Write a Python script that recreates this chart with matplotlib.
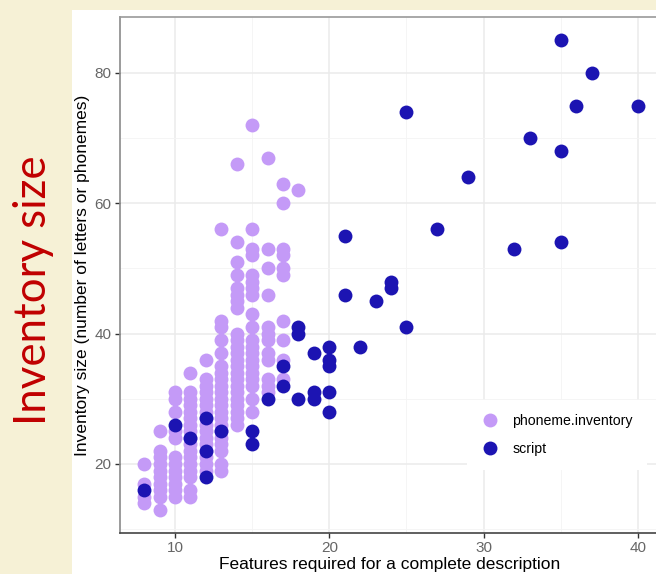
import matplotlib.pyplot as plt
from matplotlib.patches import Rectangle
from matplotlib.lines import Line2D

# phoneme inventories: one list of sizes per feature count
phoneme_x = [8, 9, 10, 11, 12, 13, 14, 15, 16, 17, 18]
phoneme_y = [
    [20, 17, 15, 14],
    [25, 22, 21, 20, 19, 18, 17, 16, 15, 13],
    [31, 30, 28, 25, 24, 21, 20, 19, 18, 17, 16, 15],
    [34, 31, 30, 29, 28, 27, 26, 25, 24, 23, 22, 21, 20, 19, 18, 16, 15],
    [36, 33, 32, 31, 30, 29, 28, 27, 26, 25, 24, 23, 22, 21, 20, 19],
    [56, 42, 41, 39, 37, 35, 34, 33, 32, 31, 30, 29, 28, 27, 26, 25, 24, 23, 22, 20, 19],
    [66, 54, 51, 49, 47, 46, 45, 44, 40, 39, 38, 37, 36, 35, 34, 33, 32, 31, 30, 29, 28, 27, 26],
    [72, 56, 53, 52, 49, 48, 47, 46, 43, 41, 39, 38, 37, 36, 35, 34, 33, 32, 30, 28],
    [67, 53, 50, 46, 41, 40, 39, 37, 36, 33, 32, 31],
    [63, 60, 53, 52, 50, 49, 42, 39, 36, 33],
    [62],
]

# writing systems (scripts)
script_x = [8, 10, 11, 12, 12, 12, 13, 15, 15, 16, 17, 17, 18, 18, 18, 19, 19, 19,
            20, 20, 20, 20, 20, 21, 21, 22, 23, 24, 24, 25, 25, 27, 29, 32, 33,
            35, 35, 35, 36, 37, 40]
script_y = [16, 26, 24, 27, 22, 18, 25, 25, 23, 30, 35, 32, 41, 40, 30, 37, 31, 30,
            38, 36, 35, 31, 28, 55, 46, 38, 45, 48, 47, 74, 41, 56, 64, 53, 70,
            85, 68, 54, 75, 80, 75]

x_major = [10, 20, 30, 40]
x_minor = [15, 25, 35]
y_major = [20, 40, 60, 80]
y_minor = [10, 30, 50, 70]

PINK = '#c49af7'
BLUE = '#1c14b2'

plt.rcParams['font.family'] = ['Liberation Sans', 'DejaVu Sans']

fig = plt.figure(figsize=(6.56, 5.74), dpi=100)
fig.patch.set_facecolor('#f6f1d6')
# white slide panel, kept behind the axes
fig.patches.append(Rectangle((72 / 656, 0), 1, 1 - 10 / 574, transform=fig.transFigure,
                             facecolor='white', edgecolor='none', zorder=-10))

fig.text(34 / 656, 284 / 574, 'Inventory size', rotation=90, color='#c00000',
         fontsize=31.5, family=['Lato', 'DejaVu Sans'],
         ha='center', va='center')

ax = fig.add_axes([120 / 656, 1 - 533 / 574, 540 / 656, 516 / 574])
ax.set_facecolor('white')

px, py = [], []
for x, ys in zip(phoneme_x, phoneme_y):
    for y in ys:
        px.append(x)
        py.append(y)

ax.scatter(px, py, s=100, color=PINK, linewidths=0, zorder=3)
ax.scatter(script_x, script_y, s=100, color=BLUE, linewidths=0, zorder=4)

ax.set_xlim(6.435, 41.43)
ax.set_ylim(9.41, 88.59)
ax.set_xticks(x_major)
ax.set_xticks(x_minor, minor=True)
ax.set_yticks(y_major)
ax.set_yticks(y_minor, minor=True)
ax.grid(True, which='major', color='#ebebeb', linewidth=1.1, zorder=0)
ax.grid(True, which='minor', color='#f4f4f4', linewidth=0.6, zorder=0)
ax.set_axisbelow(True)

ax.tick_params(which='major', length=3.5, width=1, color='#333333',
               labelsize=11, labelcolor='#666666', pad=2.5)
ax.tick_params(which='minor', length=0)

ax.spines['left'].set_color('#8a8a8a')
ax.spines['top'].set_color('#9a9a9a')
ax.spines['bottom'].set_color('#444444')
ax.spines['right'].set_visible(False)
for s in ax.spines.values():
    s.set_linewidth(1.2)

ax.set_xlabel('Features required for a complete description', fontsize=12.5, labelpad=1.5)
ax.set_ylabel('Inventory size (number of letters or phonemes)', fontsize=12.5, labelpad=3)

handles = [Line2D([], [], marker='o', linestyle='none', markersize=10,
                  markerfacecolor=PINK, markeredgewidth=0),
           Line2D([], [], marker='o', linestyle='none', markersize=10,
                  markerfacecolor=BLUE, markeredgewidth=0)]
leg = ax.legend(handles, ['phoneme.inventory', 'script'], loc='center',
                bbox_to_anchor=(0.809, 0.190), frameon=True, facecolor='white',
                edgecolor='none', framealpha=1, fontsize=10.2, handletextpad=1.0,
                labelspacing=0.95, borderpad=1.0, handlelength=1.2)
leg.get_frame().set_boxstyle('square', pad=0)
leg.set_zorder(5)

fig.savefig('out.png', dpi=100)
